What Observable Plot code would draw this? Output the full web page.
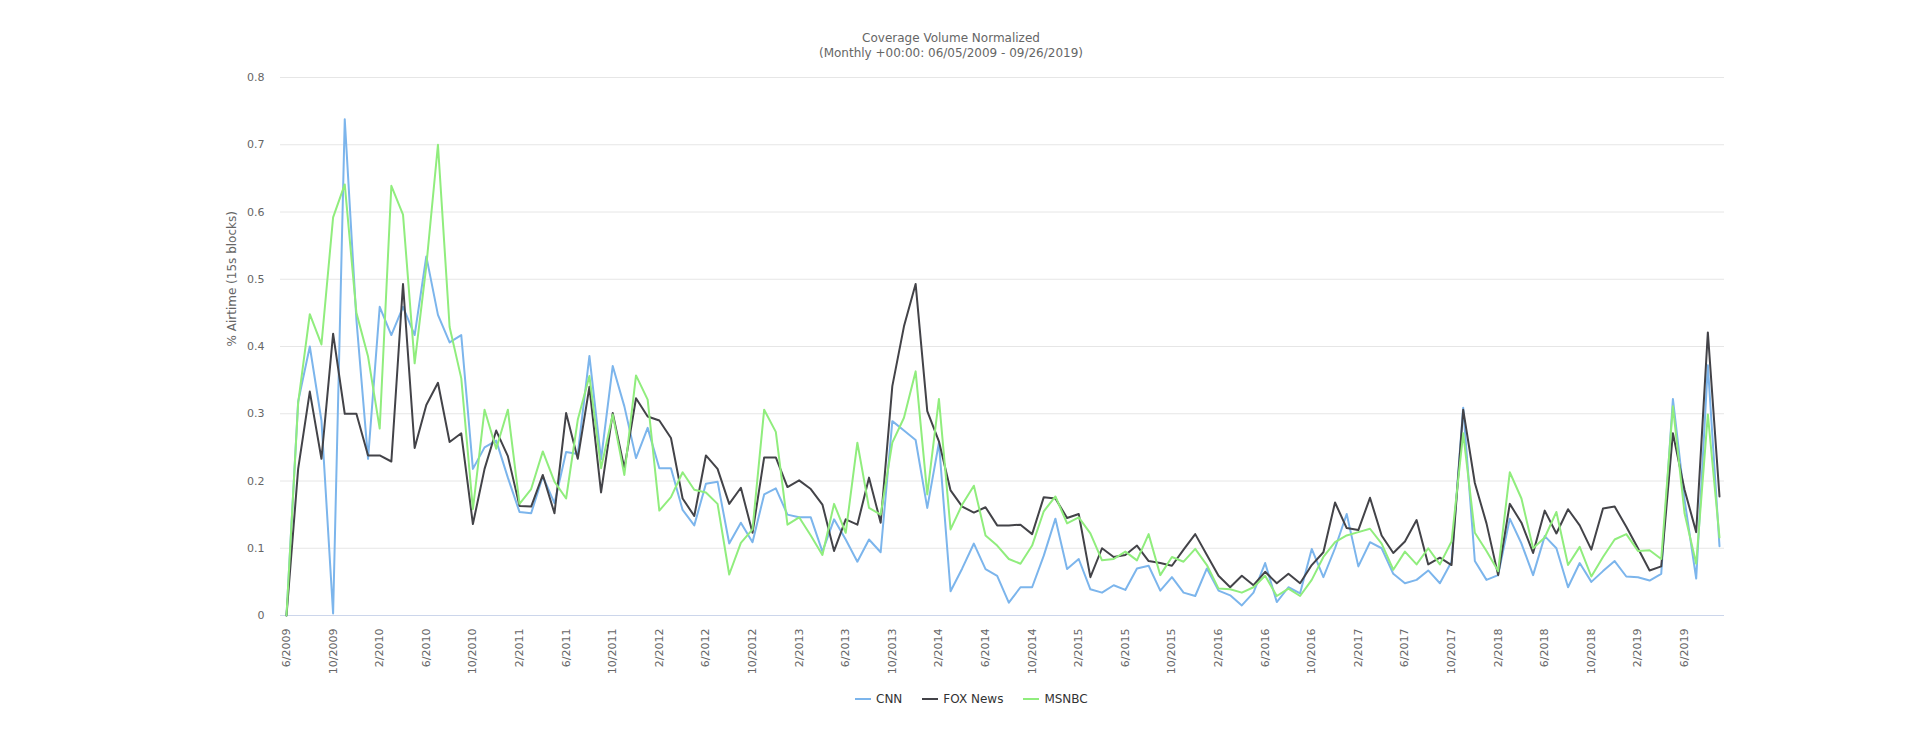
<!DOCTYPE html>
<html>
<head>
<meta charset="utf-8">
<script src="https://cdn.jsdelivr.net/npm/d3@7"></script>
<script src="https://cdn.jsdelivr.net/npm/@observablehq/plot@0.6"></script>
<style>
  body { margin: 0; background: #fff; font-family: "DejaVu Sans", sans-serif; }
  #title { width: 1902px; height: 60px; box-sizing: border-box; padding-top: 31px; text-align: center; color: #666; font-size: 12px; line-height: 15px; }
  #chart svg { display: block; }
  #legend { height: 18px; display: flex; align-items: center; padding-left: 855px; font-size: 12px; color: #333; }
  .item { display: flex; align-items: center; margin-right: 20px; }
  .sym { width: 16px; height: 2px; margin-right: 5px; }
</style>
</head>
<body>
<div id="title"><div>Coverage Volume Normalized</div><div>(Monthly +00:00: 06/05/2009 - 09/26/2019)</div></div>
<div id="chart"></div>
<div id="legend"></div>
<script>
// Categories: months 6/2009 .. 9/2019
const months = [];
for (let y = 2009, m = 6; y < 2019 || (y === 2019 && m <= 9); ) {
  months.push(`${m}/${y}`);
  m++; if (m > 12) { m = 1; y++; }
}

const xTicks = ["6/2009","10/2009","2/2010","6/2010","10/2010","2/2011","6/2011","10/2011","2/2012","6/2012","10/2012","2/2013","6/2013","10/2013","2/2014","6/2014","10/2014","2/2015","6/2015","10/2015","2/2016","6/2016","10/2016","2/2017","6/2017","10/2017","2/2018","6/2018","10/2018","2/2019","6/2019"];
const yTicks = [0, 0.1, 0.2, 0.3, 0.4, 0.5, 0.6, 0.7, 0.8];
const yTitle = ["% Airtime (15s blocks)"];

const seriesNames = ["CNN", "FOX News", "MSNBC"];
const seriesColors = ["#7cb5ec", "#434348", "#90ed7d"];

const cnn = [0,0.318,0.40,0.29,0.003,0.738,0.44,0.233,0.459,0.417,0.459,0.417,0.534,0.447,0.406,0.417,0.218,0.25,0.26,0.205,
0.154,0.152,0.207,0.167,0.243,0.24,0.386,0.232,0.371,0.311,0.234,0.279,0.219,0.219,0.157,0.134,0.196,0.199,0.107,0.138,
0.109,0.18,0.189,0.15,0.146,0.146,0.095,0.143,0.113,0.08,0.113,0.094,0.289,0.275,0.261,0.16,0.257,0.036,0.07,0.107,
0.069,0.059,0.019,0.042,0.042,0.089,0.144,0.069,0.084,0.039,0.034,0.045,0.038,0.07,0.074,0.037,0.057,0.034,0.029,0.07,
0.037,0.03,0.015,0.034,0.078,0.02,0.042,0.033,0.099,0.057,0.10,0.151,0.073,0.109,0.10,0.062,0.048,0.053,0.067,0.048,
0.08,0.309,0.081,0.053,0.06,0.144,0.107,0.06,0.118,0.10,0.042,0.078,0.05,0.066,0.081,0.058,0.057,0.052,0.062,0.322,
0.172,0.055,0.372,0.103];

const fox = [0,0.218,0.333,0.233,0.419,0.30,0.30,0.238,0.238,0.229,0.493,0.249,0.313,0.346,0.258,0.271,0.136,0.218,0.275,0.237,
0.163,0.162,0.209,0.152,0.301,0.233,0.34,0.183,0.301,0.219,0.323,0.296,0.29,0.264,0.174,0.148,0.238,0.218,0.166,0.19,
0.123,0.235,0.235,0.191,0.201,0.188,0.165,0.096,0.143,0.135,0.205,0.138,0.341,0.43,0.493,0.304,0.259,0.186,0.162,0.153,
0.161,0.134,0.134,0.135,0.121,0.176,0.174,0.145,0.151,0.057,0.10,0.087,0.09,0.104,0.081,0.078,0.074,0.098,0.121,0.09,
0.059,0.042,0.059,0.045,0.065,0.048,0.062,0.048,0.075,0.094,0.168,0.13,0.127,0.175,0.119,0.093,0.11,0.142,0.076,0.086,
0.075,0.306,0.197,0.137,0.06,0.166,0.138,0.093,0.156,0.122,0.158,0.134,0.098,0.159,0.162,0.132,0.10,0.067,0.073,0.271,
0.187,0.124,0.421,0.177];

const msnbc = [0,0.316,0.448,0.403,0.592,0.641,0.45,0.385,0.278,0.639,0.596,0.375,0.52,0.70,0.429,0.353,0.158,0.306,0.248,0.306,
0.166,0.188,0.244,0.199,0.174,0.291,0.356,0.219,0.299,0.209,0.357,0.321,0.156,0.176,0.213,0.187,0.183,0.166,0.061,0.108,
0.128,0.306,0.273,0.135,0.146,0.119,0.09,0.166,0.123,0.257,0.16,0.15,0.257,0.294,0.363,0.18,0.322,0.128,0.165,0.193,
0.119,0.104,0.084,0.077,0.104,0.155,0.177,0.137,0.146,0.122,0.082,0.084,0.095,0.082,0.121,0.06,0.087,0.08,0.099,0.075,
0.04,0.039,0.034,0.042,0.059,0.029,0.04,0.029,0.053,0.087,0.109,0.119,0.124,0.129,0.107,0.068,0.095,0.076,0.10,0.076,
0.11,0.271,0.123,0.096,0.066,0.213,0.174,0.10,0.116,0.154,0.075,0.102,0.058,0.087,0.113,0.121,0.096,0.097,0.084,0.311,
0.152,0.077,0.299,0.116];

const seriesValues = [cnn, fox, msnbc];
const rows = seriesNames.map((name, i) =>
  seriesValues[i].map((v, j) => ({month: months[j], value: v, series: name}))
);

const chart = Plot.plot({
  width: 1920,
  height: 630,
  marginLeft: 280,
  marginRight: 196,
  marginTop: 17,
  marginBottom: 75,
  style: {fontFamily: "DejaVu Sans, sans-serif", fontSize: "11px", color: "#666", background: "transparent", overflow: "visible"},
  x: {type: "point", domain: months, padding: 0, insetLeft: 6, insetRight: 5},
  y: {domain: [0, 0.8]},
  color: {domain: seriesNames, range: seriesColors},
  marks: [
    Plot.ruleY(yTicks.filter(d => d > 0), {stroke: "#e6e6e6", strokeWidth: 1}),
    Plot.ruleY([0], {stroke: "#ccd6eb", strokeWidth: 1}),
    Plot.axisY({ticks: yTicks, tickSize: 0, tickPadding: 16, tickFormat: d => d === 0 ? "0" : d.toFixed(1), label: null, fill: "#666"}),
    Plot.axisX({ticks: xTicks, tickSize: 0, tickRotate: -90, tickPadding: 13, label: null, fill: "#666"}),
    Plot.text(yTitle, {frameAnchor: "left", dx: -48, rotate: -90, fontSize: 12, fill: "#666"}),
    ...rows.map(r => Plot.line(r, {x: "month", y: "value", stroke: "series", strokeWidth: 2, curve: "linear"}))
  ]
});
document.getElementById("chart").appendChild(chart);

const legend = document.getElementById("legend");
seriesNames.forEach((name, i) => {
  const item = document.createElement("div");
  item.className = "item";
  const sym = document.createElement("span");
  sym.className = "sym";
  sym.style.background = seriesColors[i];
  const txt = document.createElement("span");
  txt.textContent = name;
  item.appendChild(sym);
  item.appendChild(txt);
  legend.appendChild(item);
});
</script>
</body>
</html>
